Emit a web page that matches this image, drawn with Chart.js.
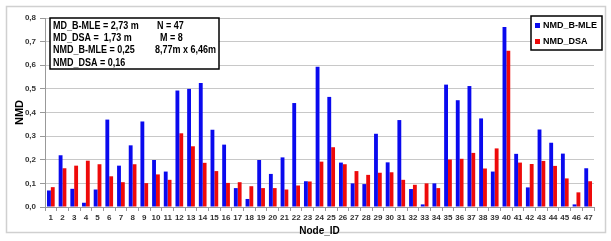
<!DOCTYPE html>
<html>
<head>
<meta charset="utf-8">
<script src="https://cdn.jsdelivr.net/npm/chart.js@4"></script>
<style>
  body { margin: 0; background: #fff; }
  #wrap { width: 611px; height: 241px; position: relative; }
</style>
</head>
<body>
<div id="wrap"><canvas id="nmdChart" width="611" height="241"></canvas></div>
<script>
// valores
const nodeIds = Array.from({ length: 47 }, (_, i) => String(i + 1));
const nmdBMle = [0.070, 0.219, 0.077, 0.018, 0.074, 0.370, 0.175, 0.261, 0.362, 0.199,
                 0.150, 0.493, 0.500, 0.525, 0.327, 0.264, 0.080, 0.034, 0.199, 0.140,
                 0.210, 0.440, 0.109, 0.594, 0.466, 0.188, 0.100, 0.097, 0.310, 0.189,
                 0.368, 0.076, 0.011, 0.100, 0.518, 0.452, 0.512, 0.375, 0.150, 0.762,
                 0.225, 0.083, 0.328, 0.272, 0.226, 0.011, 0.164];
const nmdDsa = [0.084, 0.164, 0.175, 0.196, 0.181, 0.130, 0.105, 0.181, 0.101, 0.138,
                0.115, 0.312, 0.257, 0.187, 0.152, 0.102, 0.105, 0.088, 0.080, 0.080,
                0.074, 0.091, 0.108, 0.192, 0.253, 0.181, 0.152, 0.136, 0.145, 0.147,
                0.115, 0.094, 0.100, 0.080, 0.201, 0.204, 0.229, 0.163, 0.248, 0.661,
                0.188, 0.182, 0.195, 0.174, 0.121, 0.062, 0.109];
const seriesNames = ['NMD_B-MLE', 'NMD_DSA'];
const yTicks = [0, 0.1, 0.2, 0.3, 0.4, 0.5, 0.6, 0.7, 0.8];
// caixa de estatísticas (coluna esquerda / direita)
const statsLeft = ['MD_B-MLE = 2,73 m', 'MD_DSA =  1,73 m', 'NMD_B-MLE = 0,25', 'NMD_DSA = 0,16'];
const statsRight = ['N = 47', 'M = 8', '8,77m x 6,46m', ''];

const FONT = '"Liberation Sans", Arial, sans-serif';

const framePlugin = {
    id: 'frame',
    beforeDraw(chart) {
        const ctx = chart.ctx;
        ctx.save();
        ctx.strokeStyle = '#d0d0d0';
        ctx.lineWidth = 1.5;
        ctx.strokeRect(6.5, 6.5, 599, 226);
        ctx.restore();
    },
    afterDraw(chart) {
        const ctx = chart.ctx;
        ctx.save();

        // caixa de texto
        const bx = 50, by = 18, bw = 169, bh = 51;
        ctx.fillStyle = '#fff';
        ctx.fillRect(bx, by, bw, bh);
        ctx.strokeStyle = '#000';
        ctx.lineWidth = 1.5;
        ctx.strokeRect(bx, by, bw, bh);
        ctx.fillStyle = '#000';
        ctx.font = 'bold 10px ' + FONT;
        ctx.textBaseline = 'middle';
        const sx = 0.9;
        const rightX = [157, 160, 155, 155];
        ctx.save();
        ctx.scale(sx, 1);
        statsLeft.forEach((t, i) => ctx.fillText(t, (bx + 3) / sx, by + 8 + i * 12.3));
        statsRight.forEach((t, i) => { if (t) ctx.fillText(t, rightX[i] / sx, by + 8 + i * 12.3); });
        ctx.restore();

        // legenda
        const lx = 531, ly = 16, lw = 71, lh = 34;
        ctx.fillStyle = '#fff';
        ctx.fillRect(lx, ly, lw, lh);
        ctx.strokeStyle = '#000';
        ctx.strokeRect(lx, ly, lw, lh);
        ctx.textAlign = 'left';
        ctx.font = 'bold 9px ' + FONT;
        chart.data.datasets.forEach((ds, i) => {
            const yy = ly + 9.5 + i * 16;
            ctx.fillStyle = ds.backgroundColor;
            ctx.fillRect(lx + 4, yy - 2.5, 5, 5);
            ctx.fillStyle = '#000';
            ctx.fillText(ds.label, lx + 12, yy);
        });
        ctx.restore();
    }
};

new Chart(document.getElementById('nmdChart'), {
    type: 'bar',
    data: {
        labels: nodeIds,
        datasets: [
            { label: seriesNames[0], data: nmdBMle, backgroundColor: '#0a0aee' },
            { label: seriesNames[1], data: nmdDsa, backgroundColor: '#ee0a0a' }
        ]
    },
    options: {
        responsive: false,
        animation: false,
        layout: { padding: { left: 13, right: 17, top: 18, bottom: 0 } },
        datasets: { bar: { barPercentage: 1, categoryPercentage: 0.66 } },
        plugins: { legend: { display: false }, tooltip: { enabled: false } },
        scales: {
            y: {
                min: 0, max: 0.8,
                afterBuildTicks: s => { s.ticks = yTicks.map(v => ({ value: v })); },
                afterFit: s => { s.width = 32; },
                ticks: {
                    color: '#333',
                    font: { family: FONT, size: 8, weight: 'bold' },
                    padding: 4,
                    callback: v => v.toFixed(1).replace('.', ',')
                },
                grid: { color: '#c8c8c8', tickLength: 5, tickColor: '#999' },
                border: { color: '#999' },
                title: { display: true, text: 'NMD', color: '#000', font: { family: FONT, size: 11, weight: 'bold' }, padding: 0 }
            },
            x: {
                afterFit: s => { s.height = 34; },
                ticks: {
                    color: '#333',
                    font: { family: FONT, size: 8, weight: 'bold' },
                    maxRotation: 0, autoSkip: false, padding: 2
                },
                grid: { drawOnChartArea: false, tickLength: 4, tickColor: '#999', offset: true },
                border: { color: '#999' },
                title: { display: true, text: 'Node_ID', color: '#000', font: { family: FONT, size: 10, weight: 'bold' }, padding: { top: 0, bottom: 4 } }
            }
        }
    },
    plugins: [framePlugin]
});
</script>
</body>
</html>
